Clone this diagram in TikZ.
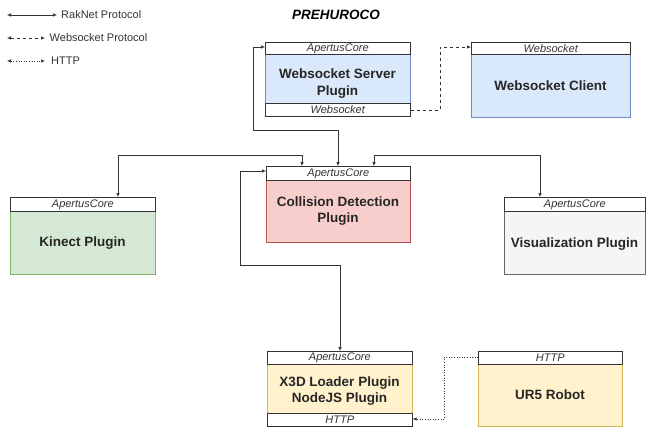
\documentclass[tikz,border=0pt]{standalone}
\usepackage{fontspec}
\setmainfont{Liberation Sans}
\usetikzlibrary{arrows.meta}
\definecolor{bluef}{HTML}{DAE8FC}\definecolor{blued}{HTML}{6C8EBF}
\definecolor{redf}{HTML}{F8CECC}\definecolor{redd}{HTML}{B85450}
\definecolor{greenf}{HTML}{D5E8D4}\definecolor{greend}{HTML}{82B366}
\definecolor{grayf}{HTML}{F5F5F5}\definecolor{grayd}{HTML}{666666}
\definecolor{yelf}{HTML}{FFF2CC}\definecolor{yeld}{HTML}{D6B656}
\definecolor{wire}{HTML}{333333}
\tikzset{
  hdr/.style={draw=black!80, fill=white, line width=0.6pt, inner sep=0pt, anchor=north west,
    font=\fontsize{11}{12}\selectfont\itshape, text=black!80},
  body/.style={inner sep=0pt, anchor=north west},
  btext/.style={inner sep=0pt, anchor=center, align=center,
    font=\fontsize{13.5}{16.5}\selectfont\bfseries, text=black!85},
  wirestyle/.style={draw=wire, line width=0.6pt},
  tip/.style={-{Latex[length=4pt,width=3.5pt]}},
  tips/.style={{Latex[length=4pt,width=3.5pt]}-{Latex[length=4pt,width=3.5pt]}},
  lbl/.style={anchor=west, inner sep=0pt, font=\fontsize{11}{12}\selectfont, text=black!80},
}
\begin{document}
\begin{tikzpicture}[x=1pt,y=-1pt]
\useasboundingbox (0,0) rectangle (646,432);
% title
\node[inner sep=0pt, font=\fontsize{13.5}{15}\selectfont\bfseries\itshape] (title) at (336,15) {PREHUROCO};
% legend
\coordinate (l1a) at (7,15); \coordinate (l1b) at (57,15);
\draw[wirestyle,tips] (l1a) -- (l1b);
\node[lbl] (l1t) at (61,15) {RakNet Protocol};
\coordinate (l2a) at (7,38); \coordinate (l2b) at (45,38);
\draw[wirestyle,tips,dashed] (l2a) -- (l2b);
\node[lbl] (l2t) at (49.5,38) {Websocket Protocol};
\coordinate (l3a) at (7,61); \coordinate (l3b) at (45,61);
\draw[wirestyle,tips,dotted] (l3a) -- (l3b);
\node[lbl] (l3t) at (51,61) {HTTP};

% Websocket Server Plugin
\node[body, fill=bluef, draw=blued, minimum width=145pt, minimum height=74pt] (wsb) at (265,42) {};
\node[btext] (wst) at (337.5,83.5) {Websocket Server\\Plugin};
\node[hdr, minimum width=145pt, minimum height=12pt] (wsh) at (265,42) {ApertusCore};
\node[hdr, minimum width=145pt, minimum height=13pt] (wsf) at (265,103) {Websocket};

% Websocket Client
\node[body, fill=bluef, draw=blued, minimum width=159pt, minimum height=75pt] (wcb) at (471,42) {};
\node[btext] (wct) at (550.5,86) {Websocket Client};
\node[hdr, minimum width=159pt, minimum height=12pt] (wch) at (471,42) {Websocket};

% Collision Detection Plugin
\node[body, fill=redf, draw=redd, minimum width=144pt, minimum height=76pt] (cdb) at (266,166) {};
\node[btext] (cdt) at (338,211) {Collision Detection\\Plugin};
\node[hdr, minimum width=144pt, minimum height=14pt] (cdh) at (266,166) {ApertusCore};

% Kinect Plugin
\node[body, fill=greenf, draw=greend, minimum width=145pt, minimum height=77pt] (knb) at (10,197) {};
\node[btext] (knt) at (82.5,243) {Kinect Plugin};
\node[hdr, minimum width=145pt, minimum height=14pt] (knh) at (10,197) {ApertusCore};

% Visualization Plugin
\node[body, fill=grayf, draw=grayd, minimum width=141pt, minimum height=77pt] (vzb) at (504,197) {};
\node[btext] (vzt) at (574.5,244) {Visualization Plugin};
\node[hdr, minimum width=141pt, minimum height=14pt] (vzh) at (504,197) {ApertusCore};

% X3D Loader / NodeJS Plugin
\node[body, fill=yelf, draw=yeld, minimum width=145pt, minimum height=75pt] (xdb) at (267,351) {};
\node[btext] (xdt) at (339.5,391) {X3D Loader Plugin\\NodeJS Plugin};
\node[hdr, minimum width=145pt, minimum height=13pt] (xdh) at (267,351) {ApertusCore};
\node[hdr, minimum width=145pt, minimum height=13pt] (xdf) at (267,413) {HTTP};

% UR5 Robot
\node[body, fill=yelf, draw=yeld, minimum width=144pt, minimum height=75pt] (urb) at (478,351) {};
\node[btext] (urt) at (550,395) {UR5 Robot};
\node[hdr, minimum width=144pt, minimum height=13pt] (urh) at (478,351) {HTTP};

% connectors
\coordinate (c1) at (253,130);
\draw[wirestyle,tips] (wsh.west |- 0,47) -| (c1) -| (cdh.north -| 338,0);
\coordinate (c2) at (118,155);
\draw[wirestyle,tips] (knh.north -| c2) |- (302,155) -- (cdh.north -| 302,0);
\coordinate (c3) at (540,155);
\draw[wirestyle,tips] (vzh.north -| c3) |- (374,155) -- (cdh.north -| 374,0);
\coordinate (c4) at (240,265);
\draw[wirestyle,tips] (cdh.west |- 0,171) -| (c4) -| (xdh.north -| 340,0);
\coordinate (c5) at (440,110);
\draw[wirestyle,tip,dashed] (wsf.east |- 0,110) -| (c5) |- (wch.west |- 0,47);
\coordinate (c6) at (444,357);
\draw[wirestyle,tip,dotted] (urh.west |- 0,357) -| (c6) |- (xdf.east |- 0,419);
\end{tikzpicture}
\end{document}
